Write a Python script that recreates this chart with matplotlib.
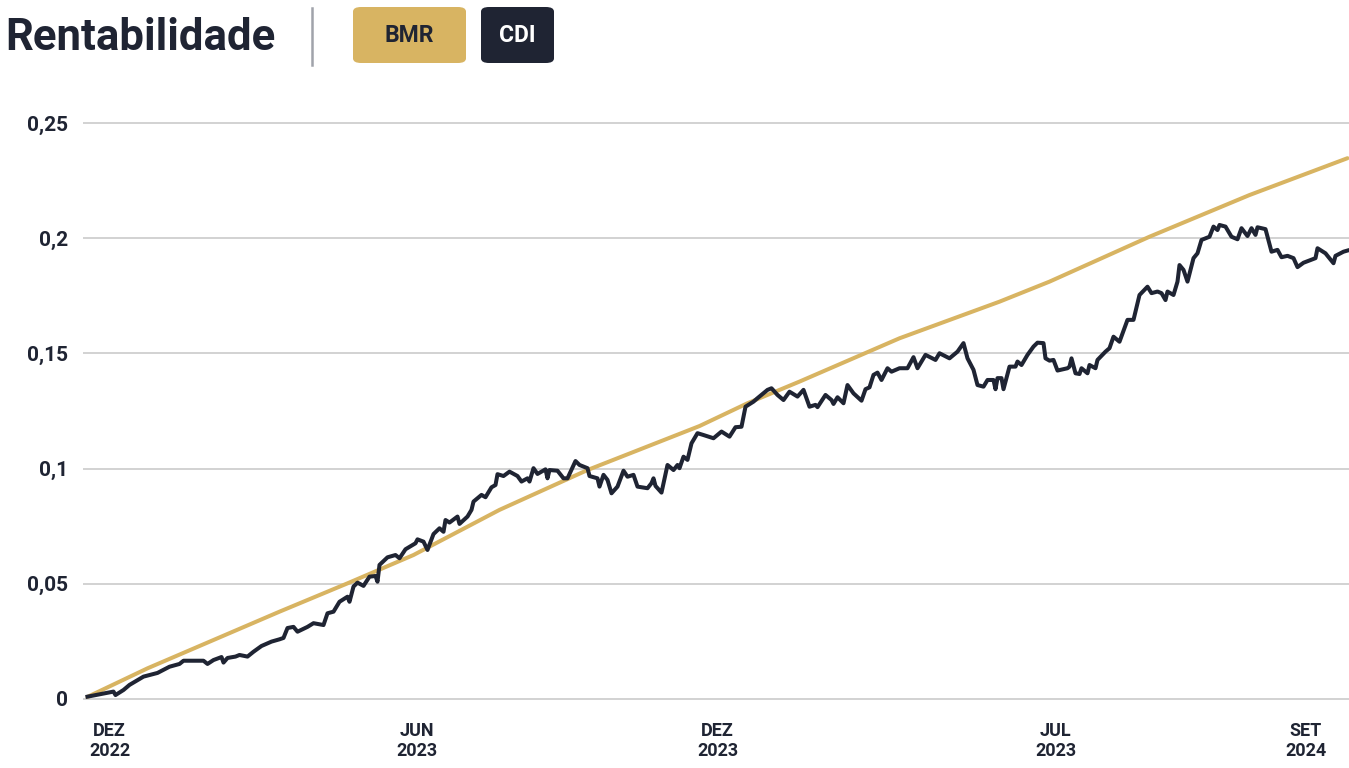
import matplotlib.pyplot as plt
from matplotlib.patches import FancyBboxPatch
from matplotlib.lines import Line2D

GOLD = "#D8B462"
DARK = "#1F2433"
GRID = "#CFCFCF"

# x in trading-day index
cdi_days = [0, 13, 14, 18, 21, 28, 35, 41, 46, 48, 58, 60, 63, 67, 68, 70, 74, 76, 80, 83,
            87, 92, 96, 98, 100, 103, 105, 110, 113, 118, 120, 123, 126, 130, 131, 133, 135,
            138, 141, 144, 145, 146, 150, 154, 156, 159, 164, 165, 168, 170, 173, 176, 178,
            179, 181, 185, 186, 190, 192, 193, 197, 199, 202, 204, 205, 208, 211, 215, 217,
            220, 221, 223, 225, 229, 230, 231, 235, 238, 240, 244, 246, 250, 251, 255, 256,
            258, 260, 262, 265, 268, 270, 273, 275, 280, 282, 283, 284, 287, 290, 293, 295,
            296, 298, 300, 302, 305, 308, 313, 317, 321, 324, 327, 329, 333, 335, 340, 342,
            345, 348, 351, 355, 358, 361, 364, 365, 369, 372, 373, 375, 378, 380, 383, 387,
            389, 391, 393, 395, 397, 400, 402, 406, 410, 413, 415, 419, 424, 426, 431, 435,
            438, 440, 443, 445, 448, 450, 453, 454, 455, 457, 458, 461, 464, 465, 467, 470,
            473, 475, 478, 479, 481, 483, 485, 490, 491, 492, 494, 496, 497, 500, 501, 504,
            505, 509, 511, 513, 516, 520, 523, 526, 530, 532, 535, 537, 539, 540, 543, 545,
            546, 548, 550, 553, 555, 557, 561, 563, 565, 566, 569, 572, 575, 577, 580, 582,
            584, 585, 589, 592, 595, 597, 600, 603, 605, 608, 614, 615, 619, 620, 623, 624,
            628, 630]
cdi_vals = [0.0010, 0.0032, 0.0017, 0.0039, 0.0061, 0.0097, 0.0113, 0.0140, 0.0152, 0.0166,
            0.0166, 0.0152, 0.0169, 0.0182, 0.0158, 0.0178, 0.0184, 0.0191, 0.0184, 0.0205,
            0.0230, 0.0249, 0.0259, 0.0265, 0.0308, 0.0313, 0.0292, 0.0313, 0.0329, 0.0321,
            0.0372, 0.0379, 0.0422, 0.0444, 0.0422, 0.0488, 0.0505, 0.0491, 0.0531, 0.0534,
            0.0509, 0.0582, 0.0615, 0.0625, 0.0611, 0.0650, 0.0676, 0.0693, 0.0683, 0.0647,
            0.0716, 0.0741, 0.0726, 0.0777, 0.0766, 0.0792, 0.0760, 0.0792, 0.0821, 0.0857,
            0.0886, 0.0876, 0.0919, 0.0929, 0.0976, 0.0968, 0.0987, 0.0968, 0.0944, 0.0958,
            0.0944, 0.1002, 0.0977, 0.0997, 0.0958, 0.0994, 0.0991, 0.0958, 0.0958, 0.1033,
            0.1016, 0.1002, 0.0968, 0.0958, 0.0922, 0.0973, 0.0951, 0.0893, 0.0922, 0.0991,
            0.0965, 0.0973, 0.0922, 0.0915, 0.0937, 0.0958, 0.0925, 0.0896, 0.1016, 0.0994,
            0.1016, 0.1002, 0.1052, 0.1038, 0.1110, 0.1154, 0.1146, 0.1132, 0.1161, 0.1139,
            0.1180, 0.1182, 0.1269, 0.1291, 0.1306, 0.1342, 0.1349, 0.1320, 0.1298, 0.1334,
            0.1313, 0.1342, 0.1269, 0.1277, 0.1267, 0.1320, 0.1298, 0.1281, 0.1310, 0.1284,
            0.1363, 0.1327, 0.1295, 0.1345, 0.1353, 0.1407, 0.1417, 0.1385, 0.1436, 0.1421,
            0.1436, 0.1436, 0.1484, 0.1436, 0.1494, 0.1472, 0.1501, 0.1479, 0.1508, 0.1545,
            0.1479, 0.1429, 0.1363, 0.1356, 0.1385, 0.1385, 0.1345, 0.1393, 0.1393, 0.1345,
            0.1443, 0.1443, 0.1465, 0.1450, 0.1494, 0.1530, 0.1547, 0.1545, 0.1479, 0.1469,
            0.1472, 0.1426, 0.1436, 0.1443, 0.1479, 0.1414, 0.1411, 0.1436, 0.1414, 0.1450,
            0.1436, 0.1472, 0.1508, 0.1523, 0.1573, 0.1551, 0.1646, 0.1646, 0.1754, 0.1790,
            0.1762, 0.1769, 0.1762, 0.1732, 0.1769, 0.1754, 0.1812, 0.1884, 0.1863, 0.1812,
            0.1914, 0.1935, 0.1993, 0.2007, 0.2051, 0.2036, 0.2058, 0.2051, 0.2007, 0.1996,
            0.2044, 0.2010, 0.2044, 0.2015, 0.2048, 0.2040, 0.1942, 0.1950, 0.1918, 0.1924,
            0.1914, 0.1875, 0.1894, 0.1914, 0.1957, 0.1935, 0.1924, 0.1892, 0.1924, 0.1942,
            0.1947]

bmr_days = [0, 30, 63, 96, 130, 163, 206, 250, 306, 330, 356, 406, 456, 481, 531, 581, 630]
bmr_vals = [0.0009, 0.0133, 0.0256, 0.0379, 0.0502, 0.0625, 0.0821, 0.0994, 0.1185, 0.1284,
            0.1378, 0.1566, 0.1725, 0.1812, 0.2007, 0.2188, 0.2348]

x_ticks = [11, 164.5, 315, 484, 609]
x_labels = ["DEZ\n2022", "JUN\n2023", "DEZ\n2023", "JUL\n2023", "SET\n2024"]
y_ticks = [0, 0.05, 0.1, 0.15, 0.2, 0.25]
y_labels = ["0", "0,05", "0,1", "0,15", "0,2", "0,25"]

plt.rcParams["font.family"] = ["Roboto", "DejaVu Sans"]

fig = plt.figure(figsize=(13.49, 7.68), dpi=100)
ax = fig.add_axes([83 / 1349, 0.0749, 1 - 83 / 1349, 0.7797])

ax.plot(bmr_days, bmr_vals, color=GOLD, linewidth=2.9, zorder=2, solid_capstyle="round")
ax.plot(cdi_days, cdi_vals, color=DARK, linewidth=2.9, zorder=3, solid_joinstyle="round")

ax.set_xlim(-2.25, 630.75)
ax.set_ylim(-0.005, 0.255)
ax.set_yticks(y_ticks)
ax.set_yticklabels(y_labels, fontsize=15, fontweight="bold", color=DARK)
ax.set_xticks(x_ticks)
ax.set_xticklabels(x_labels, fontsize=13, fontweight="bold", color=DARK, linespacing=1.2)
ax.tick_params(axis="both", length=0)
ax.tick_params(axis="y", pad=11)
ax.tick_params(axis="x", pad=8)
for s in ax.spines.values():
    s.set_visible(False)
ax.grid(axis="y", color=GRID, linewidth=1.3)
ax.set_axisbelow(True)

# header
fig.text(5 / 1349, 1 - 38 / 768, "Rentabilidade", fontsize=31.5, fontweight="bold",
         color=DARK, va="center", ha="left")
fig.add_artist(Line2D([312 / 1349, 312 / 1349], [1 - 8 / 768, 1 - 65 / 768],
                      color="#A0A3AA", linewidth=1.8))

for x0, w, fc, tc, lab in [(353, 113, GOLD, DARK, "BMR"), (481, 73, DARK, "white", "CDI")]:
    box = FancyBboxPatch((x0 / 1349, 1 - 63 / 768), w / 1349, 56 / 768,
                         boxstyle="round,pad=0,rounding_size=0.006",
                         transform=fig.transFigure, facecolor=fc, edgecolor="none")
    fig.add_artist(box)
    fig.text((x0 + w / 2) / 1349, 1 - 36 / 768, lab, fontsize=16.5, fontweight="bold",
             color=tc, ha="center", va="center")

fig.savefig("out.png", dpi=100)
